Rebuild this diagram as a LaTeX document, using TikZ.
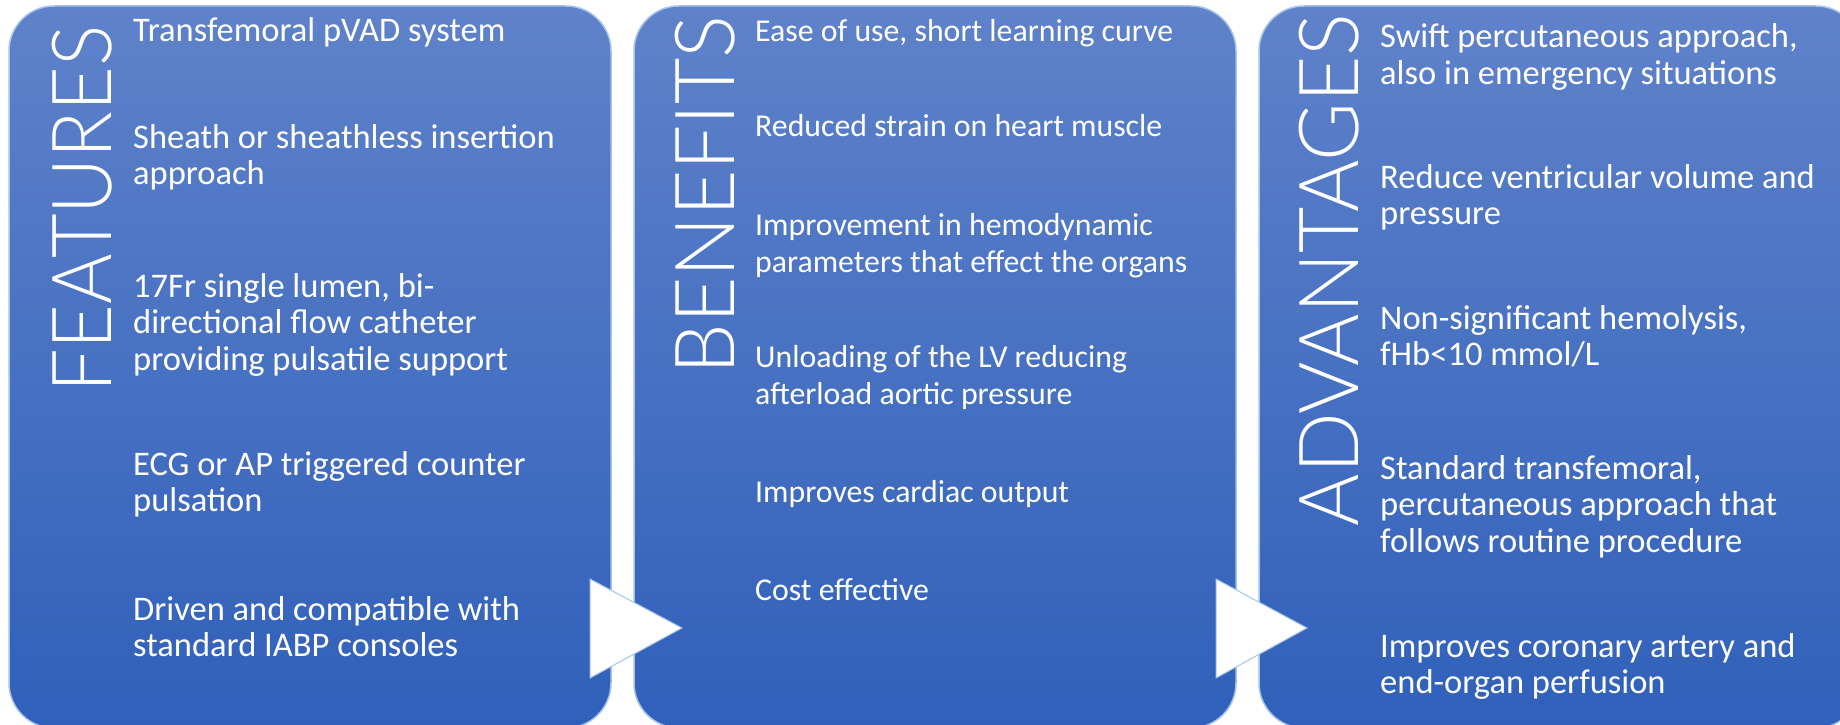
\documentclass[tikz,border=0pt]{standalone}
\usepackage{fontspec}
\usepackage{graphicx}
\setmainfont{Carlito}
\newfontfamily\headfont{Lato}[UprightFont=* Light]
\definecolor{paneltop}{RGB}{95,130,202}
\definecolor{panelbottom}{RGB}{48,96,186}
\definecolor{paneledge}{RGB}{165,195,235}
\begin{document}
\begin{tikzpicture}[x=1pt,y=-1pt]
    \tikzstyle{panel} = [draw=paneledge, line width=1.5pt, rounded corners=45pt, top color=paneltop, bottom color=panelbottom, minimum width=602pt, minimum height=722pt, inner sep=0pt]
    \tikzstyle{heading} = [text=white, rotate=90, inner sep=0pt, font=\headfont\fontsize{83}{90}\selectfont]
    \tikzstyle{item} = [text=white, anchor=base west, align=left, inner sep=0pt, font=\fontsize{34.5}{36.5}\selectfont]
    \tikzstyle{smallitem} = [item, font=\fontsize{31.8}{37.5}\selectfont]
    \tikzstyle{chevron} = [fill=white, draw=paneledge, line width=1pt]
    \useasboundingbox (0,0) rectangle (1840,725);

    % Left panel (nodes sit on the baseline of their last line)
    \node [panel] (Features) at (310,367) {};
    \node [heading] (FeaturesTitle) at (82,209) {\scalebox{0.93}[1]{FEATURES}};
    \node [item] (F1) at (133,42) {Transfemoral pVAD system};
    \node [item] (F2) at (133,184.5) {Sheath or sheathless insertion\\approach};
    \node [item] (F3) at (133,370) {17Fr single lumen, bi-\\directional flow catheter\\providing pulsatile support};
    \node [item] (F4) at (133,511.5) {ECG or AP triggered counter\\pulsation};
    \node [item] (F5) at (133,656.5) {Driven and compatible with\\standard IABP consoles};

    % Middle panel
    \node [panel] (Benefits) at (935,367) {};
    \node [heading] (BenefitsTitle) at (705,195) {\scalebox{0.965}[1]{BENEFITS}};
    \node [smallitem] (B1) at (755,42) {Ease of use, short learning curve};
    \node [smallitem] (B2) at (755,136) {Reduced strain on heart muscle};
    \node [smallitem] (B3) at (755,272.5) {Improvement in hemodynamic\\parameters that effect the organs};
    \node [smallitem] (B4) at (755,404.5) {Unloading of the LV reducing\\afterload aortic pressure};
    \node [smallitem] (B5) at (755,502) {Improves cardiac output};
    \node [smallitem] (B6) at (755,600) {Cost effective};

    % Right panel
    \node [panel] (Advantages) at (1560,367) {};
    \node [heading] (AdvantagesTitle) at (1329,270) {\scalebox{0.963}[1]{ADVANTAGES}};
    \node [item] (A1) at (1380,84.5) {Swift percutaneous approach,\\also in emergency situations};
    \node [item] (A2) at (1380,224.5) {Reduce ventricular volume and\\pressure};
    \node [item] (A3) at (1380,365.5) {Non-significant hemolysis,\\fHb<10 mmol/L};
    \node [item] (A4) at (1380,552) {Standard transfemoral,\\percutaneous approach that\\follows routine procedure};
    \node [item] (A5) at (1380,693.5) {Improves coronary artery and\\end-organ perfusion};

    % Arrows between panels
    \filldraw [chevron] (590,579) -- (682,628) -- (590,678) -- cycle;
    \filldraw [chevron] (1216,579) -- (1307,628) -- (1216,678) -- cycle;
\end{tikzpicture}
\end{document}
